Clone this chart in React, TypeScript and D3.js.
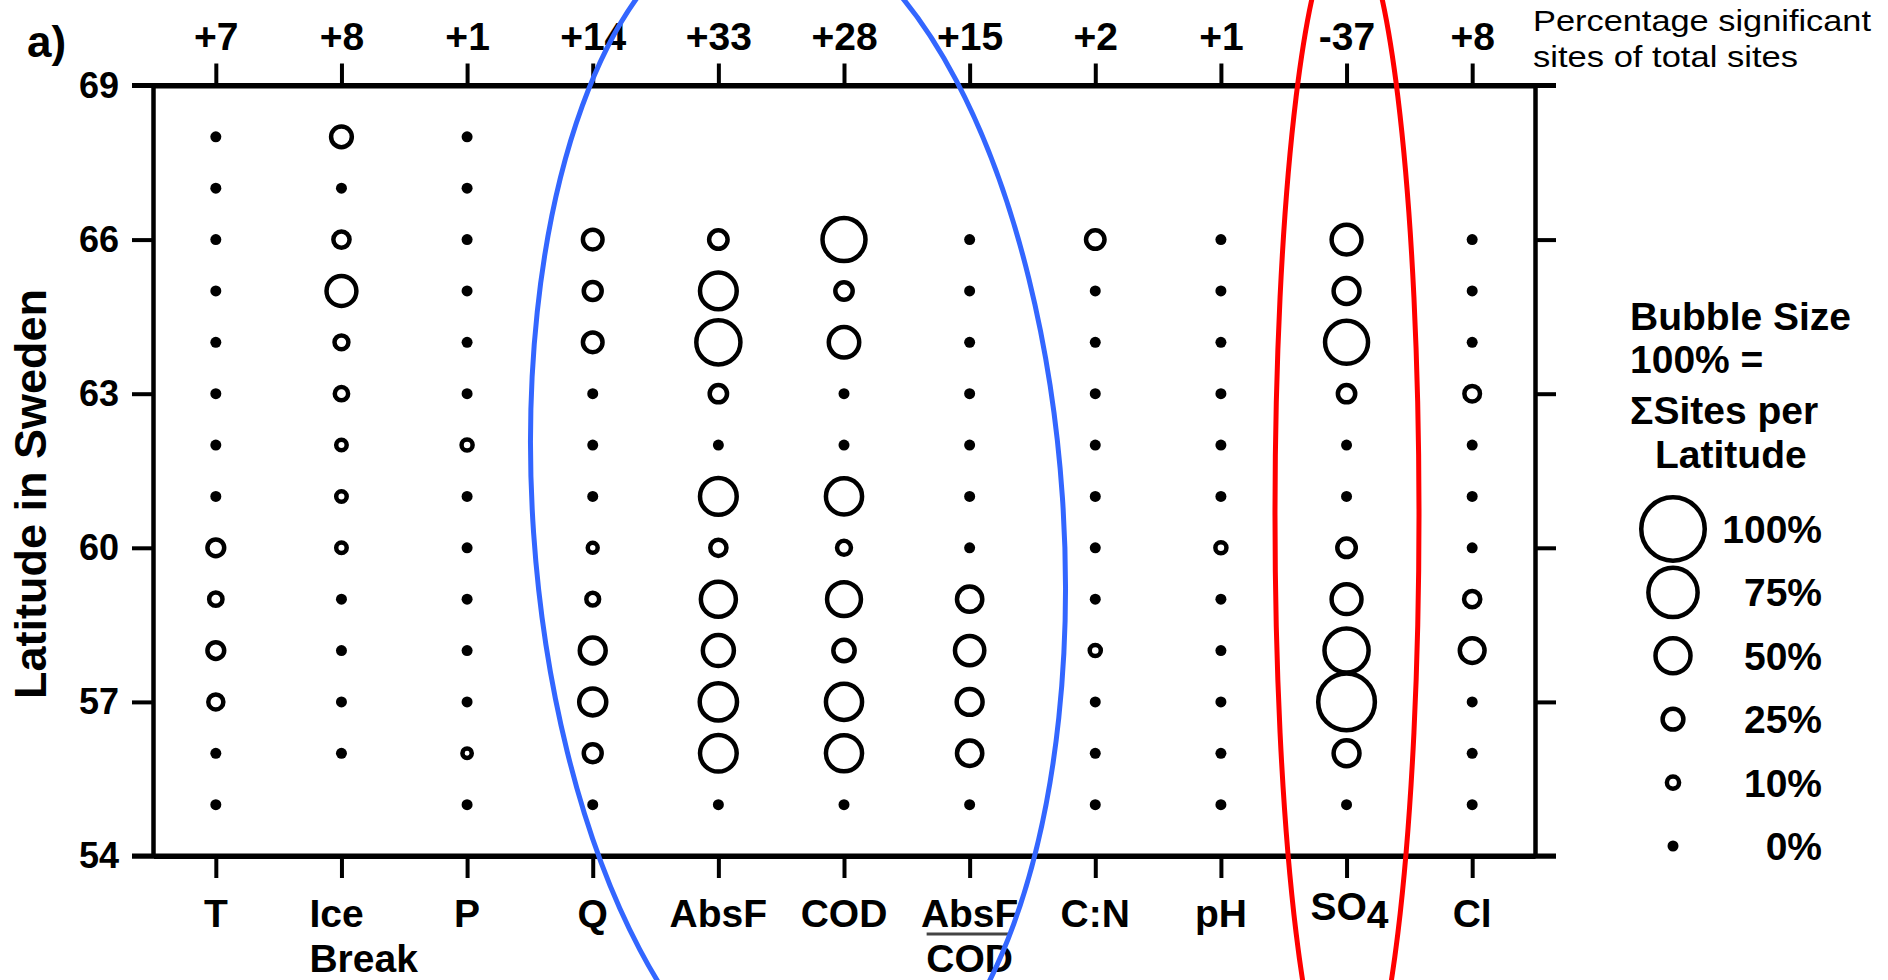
//@ts-nocheck
import { useEffect, useRef } from 'react';
import * as d3 from 'd3';

// columns (variables) and the change in % significant sites shown on top
const categories = ['T', 'Ice Break', 'P', 'Q', 'AbsF', 'COD', 'AbsF/COD', 'C:N', 'pH', 'SO4', 'Cl'];
const changeLabels = ['+7', '+8', '+1', '+14', '+33', '+28', '+15', '+2', '+1', '-37', '+8'];
const latitudes = [68, 67, 66, 65, 64, 63, 62, 61, 60, 59, 58, 57, 56, 55];
const latTicks = [54, 57, 60, 63, 66, 69];

// bubble size = % of sites per latitude, null = no sites
const tValues = [0, 0, 0, 0, 0, 0, 0, 0, 18, 12, 18, 15, 0, 0];
const iceValues = [25, 0, 17, 41, 13, 12, 7, 7, 7, 0, 0, 0, 0, null];
const pValues = [0, 0, 0, 0, 0, 0, 8, 0, 0, 0, 0, 0, 5, 0];
const qValues = [null, null, 23, 20, 23, 0, 0, 0, 6, 11, 34, 36, 20, 0];
const absfValues = [null, null, 21, 53, 66, 19, 0, 53, 17, 50, 43, 54, 53, 0];
const codValues = [null, null, 64, 19, 42, 0, 0, 52, 13, 48, 26, 52, 52, 0];
const ratioValues = [null, null, 0, 0, 0, 0, 0, 0, 0, 33, 40, 34, 33, 0];
const cnValues = [null, null, 21, 0, 0, 0, 0, 0, 0, 0, 8, 0, 0, 0];
const phValues = [null, null, 0, 0, 0, 0, 0, 0, 8, 0, 0, 0, 0, 0];
const so4Values = [null, null, 41, 34, 64, 19, 0, 0, 21, 41, 66, 88, 34, 0];
const clValues = [null, null, 0, 0, 0, 16, 0, 0, 0, 17, 32, 0, 0, 0];

const legendValues = [100, 75, 50, 25, 10, 0];

const FONT = '"Liberation Sans", Arial, sans-serif';

const BubbleChart = () => {
    const svgRef = useRef();

    useEffect(() => {
        const svg = d3.select(svgRef.current);
        svg.selectAll('*').remove();

        const series = [tValues, iceValues, pValues, qValues, absfValues, codValues,
            ratioValues, cnValues, phValues, so4Values, clValues];

        const left = 153, right = 1535, top = 85.5, bottom = 856;
        const x = d3.scalePoint().domain(categories).range([left, right]).padding(0.5);
        const y = d3.scaleLinear().domain([54, 69]).range([bottom, top]);
        // outer radius of a ring grows linearly with the percentage
        const r = d3.scaleLinear().domain([0, 100]).range([5.5, 34]);
        const sw = 4.5;

        const bubble = (g, cx, cy, v) => {
            if (v === 0) {
                g.append('circle').attr('cx', cx).attr('cy', cy).attr('r', r(0)).attr('fill', '#000');
            } else {
                g.append('circle').attr('cx', cx).attr('cy', cy).attr('r', r(v) - sw / 2)
                    .attr('fill', 'none').attr('stroke', '#000').attr('stroke-width', sw);
            }
        };

        const styleAxis = (g, width) => {
            g.select('.domain').attr('stroke-width', width);
            g.selectAll('.tick line').attr('stroke-width', 4);
            g.selectAll('text').attr('fill', '#000').style('font-family', FONT).style('font-weight', 'bold');
        };

        // left axis
        svg.append('g')
            .attr('transform', `translate(${left},0)`)
            .call(d3.axisLeft(y).tickValues(latTicks).tickSize(21).tickSizeOuter(0).tickPadding(13))
            .call(g => styleAxis(g, 4.5))
            .call(g => g.selectAll('text').style('font-size', '36px'));

        // right axis
        svg.append('g')
            .attr('transform', `translate(${right},0)`)
            .call(d3.axisRight(y).tickValues(latTicks).tickSize(21).tickSizeOuter(0).tickFormat(''))
            .call(g => styleAxis(g, 4.5));

        // top axis with change labels
        svg.append('g')
            .attr('transform', `translate(0,${top})`)
            .call(d3.axisTop(x).tickSize(22).tickSizeOuter(0).tickPadding(14)
                .tickFormat((d, i) => changeLabels[i]))
            .call(g => styleAxis(g, 5))
            .call(g => g.selectAll('text').style('font-size', '39px'));

        // bottom axis
        svg.append('g')
            .attr('transform', `translate(0,${bottom})`)
            .call(d3.axisBottom(x).tickSize(22).tickSizeOuter(0).tickFormat(''))
            .call(g => styleAxis(g, 5));

        // extend the frame lines past the corners
        [top, bottom].forEach(yy => {
            svg.append('line').attr('x1', left - 21).attr('x2', right + 21)
                .attr('y1', yy).attr('y2', yy).attr('stroke', '#000').attr('stroke-width', 5);
        });

        // bottom category labels
        const labels = svg.append('g')
            .style('font-family', FONT).style('font-weight', 'bold').style('font-size', '39px')
            .attr('text-anchor', 'middle');
        categories.forEach(c => {
            const cx = x(c);
            if (c === 'Ice Break') {
                labels.append('text').attr('x', cx - 32).attr('y', 927).attr('text-anchor', 'start').text('Ice');
                labels.append('text').attr('x', cx - 32).attr('y', 972).attr('text-anchor', 'start').text('Break');
            } else if (c === 'AbsF/COD') {
                labels.append('text').attr('x', cx).attr('y', 927).text('AbsF');
                labels.append('line').attr('x1', cx - 43).attr('x2', cx + 41)
                    .attr('y1', 934).attr('y2', 934).attr('stroke', '#444').attr('stroke-width', 3);
                labels.append('text').attr('x', cx).attr('y', 972).text('COD');
            } else if (c === 'SO4') {
                const t = labels.append('text').attr('x', cx + 3).attr('y', 920);
                t.append('tspan').text('SO');
                t.append('tspan').attr('dy', 8).text('4');
            } else {
                labels.append('text').attr('x', cx).attr('y', 927).text(c);
            }
        });

        // bubbles
        series.forEach((vals, i) => {
            const cx = x(categories[i]);
            vals.forEach((v, j) => {
                if (v !== null) bubble(svg, cx, y(latitudes[j]), v);
            });
        });

        // y axis title
        svg.append('text')
            .attr('transform', `translate(46,494) rotate(-90)`)
            .attr('text-anchor', 'middle')
            .style('font-family', FONT).style('font-weight', 'bold').style('font-size', '45px')
            .text('Latitude in Sweden');

        // panel label
        svg.append('text').attr('x', 27).attr('y', 57)
            .style('font-family', FONT).style('font-weight', 'bold').style('font-size', '44px')
            .text('a)');

        // note on the top labels
        const note = svg.append('g')
            .style('font-family', FONT).style('font-size', '29px');
        note.append('text').attr('x', 1533).attr('y', 31)
            .attr('textLength', 338).attr('lengthAdjust', 'spacingAndGlyphs').text('Percentage significant');
        note.append('text').attr('x', 1533).attr('y', 67)
            .attr('textLength', 265).attr('lengthAdjust', 'spacingAndGlyphs').text('sites of total sites');

        // legend
        const lg = svg.append('g').style('font-family', FONT).style('font-weight', 'bold').style('font-size', '39px');
        [['Bubble Size', 1630, 330], ['100% =', 1630, 373], ['\u03A3Sites per', 1630, 424], ['Latitude', 1655, 468]]
            .forEach(([s, tx, ty]) => lg.append('text').attr('x', tx).attr('y', ty).text(s));
        const ly = d3.scaleLinear().domain([0, legendValues.length - 1]).range([529, 846]);
        legendValues.forEach((v, i) => {
            bubble(lg, 1673, ly(i), v);
            lg.append('text').attr('x', 1822).attr('y', ly(i)).attr('dy', '0.36em')
                .attr('text-anchor', 'end').text(`${v}%`);
        });

        // highlight ellipses
        svg.append('ellipse')
            .attr('transform', 'translate(798,515) rotate(-3.9)')
            .attr('rx', 265).attr('ry', 598)
            .attr('fill', 'none').attr('stroke', '#3366ff').attr('stroke-width', 5);
        svg.append('ellipse')
            .attr('cx', 1347).attr('cy', 515).attr('rx', 72).attr('ry', 591)
            .attr('fill', 'none').attr('stroke', '#ff0000').attr('stroke-width', 5);
    }, []);

    return (
        <svg ref={svgRef} width={1888} height={980}
            style={{ position: 'absolute', left: 0, top: 0, background: '#fff' }}></svg>
    );
};

export default function App() {
    return <BubbleChart />;
}
